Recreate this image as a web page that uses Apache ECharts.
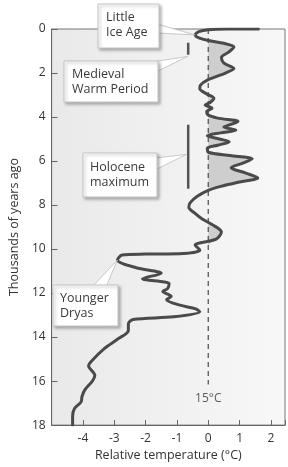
<!DOCTYPE html>
<html><head><meta charset="utf-8">
<script src="https://cdn.jsdelivr.net/npm/echarts@6/dist/echarts.min.js"></script>
<style>html,body{margin:0;padding:0;background:#fff}#c{width:288px;height:467px}</style>
</head><body><div id="c"></div>
<script>
// Data
const yearsAgo = [0.00,0.00,0.03,0.12,0.27,0.40,0.52,0.65,0.82,1.05,1.30,1.55,1.80,2.00,2.30,2.55,2.72,2.95,3.15,3.35,3.45,3.60,3.75,3.90,4.05,4.20,4.35,4.45,4.60,4.72,4.85,5.00,5.12,5.28,5.42,5.60,5.75,5.90,6.10,6.30,6.55,6.77,6.95,7.15,7.33,7.60,7.90,8.10,8.35,8.65,8.95,9.22,9.55,9.82,10.05,10.20,10.23,10.27,10.50,10.85,11.10,11.35,11.57,11.80,11.93,12.15,12.30,12.55,12.72,12.85,13.08,13.20,13.40,13.70,14.10,14.50,15.05,15.30,15.75,16.00,16.40,16.70,16.95,17.25,17.60,18.00];
const relTemp  = [1.60,0.60,0.00,-0.30,-0.42,-0.30,0.00,0.50,0.82,0.65,0.42,0.50,0.82,0.55,0.00,-0.25,-0.27,-0.05,0.18,0.05,-0.10,0.12,-0.05,-0.02,0.30,0.95,0.70,0.50,0.88,0.40,-0.03,0.35,0.67,0.30,-0.03,0.00,0.70,1.40,1.10,0.73,1.20,1.58,1.00,0.40,0.00,-0.35,-0.58,-0.62,-0.45,-0.18,0.20,0.42,0.25,-0.42,-0.27,-0.80,-2.00,-2.75,-2.90,-2.30,-1.50,-2.10,-1.25,-1.30,-1.45,-1.18,-1.33,-0.90,-0.40,-0.27,-1.10,-2.40,-2.55,-2.55,-2.90,-3.30,-3.70,-3.82,-3.62,-3.70,-3.94,-4.03,-4.06,-4.27,-4.33,-4.33];
const xTicks = [-4,-3,-2,-1,0,1,2];
const yTicks = [0,2,4,6,8,10,12,14,16,18];
const refLine = [[0,0],[0,16.15]];
const refLabel = '15°C';
const refLabelPos = [0,16.8];
const medievalBar = [[-0.64,0.63],[-0.64,1.17]];
const holoceneBar = [[-0.64,4.35],[-0.64,7.26]];
const xName = 'Relative temperature (°C)';
const yName = 'Thousands of years ago';

const FONT = '"Open Sans", "Noto Sans", sans-serif';
const curve = yearsAgo.map((y,i)=>[relTemp[i], y]);

const chart = echarts.init(document.getElementById('c'), null, {renderer:'canvas'});
chart.setOption({
  animation:false,
  grid:{left:41, right:1, top:29, bottom:37, show:true, borderColor:'#777', borderWidth:1,
    backgroundColor:{type:'linear',x:0,y:0,x2:1,y2:0,colorStops:[{offset:0,color:'#e9e9e9'},{offset:1,color:'#f8f8f8'}]}},
  xAxis:{type:'value', min:-5, max:2.45, interval:1,
    name:xName, nameLocation:'middle', nameGap:22,
    nameTextStyle:{fontFamily:FONT, fontSize:12.5, color:'#333'},
    axisLine:{show:true, onZero:false, lineStyle:{color:'#666', width:1}},
    axisTick:{show:true, inside:true, length:5, lineStyle:{color:'#666'}},
    axisLabel:{margin:7, fontFamily:FONT, fontSize:12, color:'#333',
      formatter:v=> xTicks.indexOf(v)>=0 ? String(v) : ''},
    splitLine:{show:false}},
  yAxis:{type:'value', min:0, max:18, interval:2, inverse:true,
    name:yName, nameLocation:'middle', nameGap:28, nameRotate:90,
    nameTextStyle:{fontFamily:FONT, fontSize:12.5, color:'#333'},
    axisLine:{show:true, onZero:false, lineStyle:{color:'#666', width:1}},
    axisTick:{show:true, inside:true, length:6, lineStyle:{color:'#666'}},
    axisLabel:{margin:6, fontFamily:FONT, fontSize:12, color:'#333',
      formatter:v=> yTicks.indexOf(v)>=0 ? String(v) : ''},
    splitLine:{show:false}},
  series:[
    {type:'custom', z:1, silent:true, data:[0], coordinateSystem:'cartesian2d',
      renderItem:(params, api)=>{
        const pts = curve.filter(p=>p[1]>0).map(p=>api.coord([Math.max(0,p[0]), p[1]]));
        pts.push(api.coord([0, yearsAgo[yearsAgo.length-1]]));
        let mnx=Infinity,mny=Infinity,mxx=-Infinity,mxy=-Infinity;
        pts.forEach(p=>{mnx=Math.min(mnx,p[0]);mny=Math.min(mny,p[1]);mxx=Math.max(mxx,p[0]);mxy=Math.max(mxy,p[1]);});
        return {type:'polygon', shape:{points:pts, smooth:0.25, smoothConstraint:[[mnx,mny],[mxx,mxy]]}, style:{fill:'#cecece', stroke:null}};
      }},
    {type:'line', z:2, data:refLine, symbol:'none', silent:true,
      lineStyle:{color:'#555', width:1.3, type:[5,4]}},
    {type:'line', z:3, data:curve, symbol:'none', smooth:0.3, silent:true,
      lineStyle:{color:'#4a4a4a', width:3, cap:'round', join:'round'}},
    {type:'line', z:3, data:medievalBar, symbol:'none', silent:true, lineStyle:{color:'#555', width:2.5}},
    {type:'line', z:3, data:holoceneBar, symbol:'none', silent:true, lineStyle:{color:'#555', width:2.5}},
    {type:'scatter', z:3, data:[refLabelPos], symbolSize:0, silent:true,
      label:{show:true, position:'inside', formatter:refLabel, fontFamily:FONT, fontSize:12, color:'#333'}}
  ]
});

function px(p){ return chart.convertToPixel({gridIndex:0}, p); }
function callout(box, lines, baseA, baseB, tip, textX, lineYs){
  const els = [];
  els.push({type:'polygon', z:50, shape:{points:[baseA, tip, baseB]},
    style:{fill:'#fff', stroke:'#bdbdbd', lineWidth:0.8}});
  els.push({type:'rect', z:51, shape:{x:box[0], y:box[1], width:box[2], height:box[3]},
    style:{fill:'#fff', stroke:'#c4c4c4', lineWidth:1, shadowBlur:3, shadowOffsetX:2, shadowOffsetY:2, shadowColor:'rgba(0,0,0,0.28)'}});
  lines.forEach((t,i)=>els.push({type:'text', z:52, style:{text:t, x:textX, y:lineYs[i], fill:'#3a3a3a',
    font:'12.5px '+FONT, textVerticalAlign:'middle', verticalAlign:'middle'}}));
  return els;
}
const tipLIA = px([-0.42,0.27]);
const tipMWP = px([-0.66,1.25]);
const tipHM  = px([-0.70,5.7]);
const tipYD  = px([-2.9,10.5]);
let g = [];
g = g.concat(callout([98,4,61,44], ['Little','Ice Age'], [157,24], [157,33], tipLIA, 106, [17,32]));
g = g.concat(callout([64,61,94,41], ['Medieval','Warm Period'], [145,63], [156,72], tipMWP, 72, [74,89]));
g = g.concat(callout([83,153,74,44], ['Holocene','maximum'], [155,158], [155,170], tipHM, 90, [167,182]));
g = g.concat(callout([53,285,65,41], ['Younger','Dryas'], [92,287], [106,287], tipYD, 60, [298,313]));
chart.setOption({graphic:g});
</script></body></html>
